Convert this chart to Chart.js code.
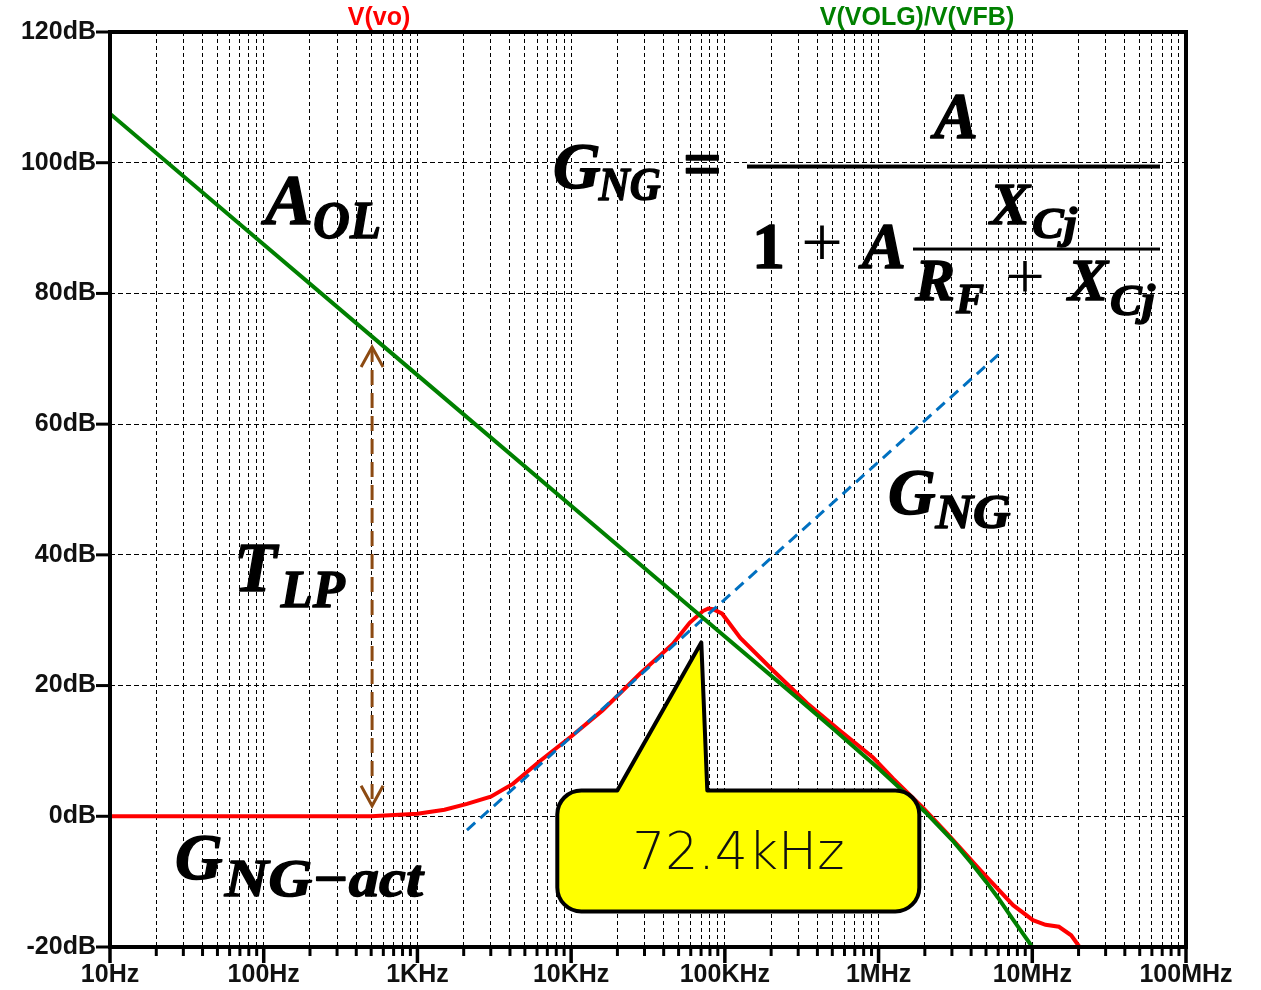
<!doctype html>
<html lang="en">
<head>
  <meta charset="utf-8">
  <title>Noise gain vs open-loop gain</title>
  <script src="https://cdn.jsdelivr.net/npm/chart.js@4.4.1/dist/chart.umd.min.js"></script>
  <style>
    html, body { margin: 0; background: #fff; }
    canvas { display: block; }
  </style>
</head>
<body>
  <canvas id="bode" width="1261" height="990"></canvas>
  <script>
    // V(VOLG)/V(VFB) : open loop gain A_OL
    const aolFreq = [10, 100, 1000, 10000, 100000, 300000, 500000, 1000000, 1500000, 2000000, 3000000, 4000000, 5000000, 6000000, 7500000, 10000000];
    const aolDb = [107.5, 87.5, 67.5, 47.5, 27.5, 18.0, 13.5, 7.3, 3.5, 0.7, -3.6, -7.1, -10.0, -12.5, -15.8, -20.0];

    // V(vo) : actual noise gain
    const voFreq = [10, 100, 500, 1000, 1500, 2100, 3000, 4200, 6300, 10000, 16000, 28000, 46000, 59000, 72000, 78000, 84000, 96000, 126000, 206000, 343000, 562000, 920000, 1240000, 1950000, 2790000, 4570000, 7500000, 10100000, 12200000, 14900000, 17900000, 20300000];
    const voDb = [0, 0, 0, 0.4, 1.0, 1.9, 3.0, 5.0, 8.5, 12.2, 16.2, 21.8, 26.4, 29.6, 31.4, 31.8, 31.7, 31.0, 27.3, 22.3, 17.3, 13.1, 9.0, 5.8, 1.3, -2.6, -8.2, -13.6, -15.9, -16.6, -16.9, -18.2, -20.0];

    // G_NG asymptote
    const ngFreq = [2100, 6200000];
    const ngDb = [-2.1, 70.9];

    // loop gain T_LP span at 500 Hz
    const tlpFreq = [507, 507];
    const tlpDb = [71.8, 1.6];

    const crossFreq = 72400;
    const crossLabel = '72.4kHz';

    const xDecades = [10, 100, 1000, 10000, 100000, 1000000, 10000000, 100000000];
    const xLabels = ['10Hz', '100Hz', '1KHz', '10KHz', '100KHz', '1MHz', '10MHz', '100MHz'];
    const yTicks = [-20, 0, 20, 40, 60, 80, 100, 120];

    const xTickValues = [];
    xDecades.forEach((d, i) => {
      if (i === xDecades.length - 1) { xTickValues.push(d); return; }
      for (let m = 1; m <= 9; m++) xTickValues.push(m * d);
    });

    const pts = (fs, ds) => fs.map((f, i) => ({ x: f, y: ds[i] }));

    const BROWN = '#8c4a12';
    const SERIF = "'Liberation Serif', 'DejaVu Serif', serif";

    // heavy italic math glyphs; w squeezes/stretches the run to a width
    function mtext(ctx, s, x, y, size, italic, w, weight) {
      ctx.font = (italic === false ? '' : 'italic ') + (weight || 'bold') + ' ' + size + 'px ' + SERIF;
      const mw = ctx.measureText(s).width;
      const k = w ? w / mw : 1;
      ctx.save();
      ctx.translate(x, y);
      ctx.scale(k, 1);
      ctx.lineWidth = 1.4;
      ctx.strokeStyle = ctx.fillStyle;
      ctx.lineJoin = 'round';
      const ox = ctx.textAlign === 'center' ? 0 : 0;
      ctx.fillText(s, ox, 0);
      if (weight !== 'normal') ctx.strokeText(s, ox, 0);
      ctx.restore();
      return x + mw * k;
    }

    const overlay = {
      id: 'overlay',
      afterDatasetsDraw(chart) {
        const ctx = chart.ctx;
        const { left, right, top, bottom } = chart.chartArea;
        const xs = chart.scales.x, ys = chart.scales.y;
        ctx.save();

        // frame
        ctx.strokeStyle = '#000';
        ctx.lineWidth = 4;
        ctx.strokeRect(left, top, right - left, bottom - top);

        // tick marks
        ctx.lineWidth = 3;
        yTicks.forEach(v => {
          const y = ys.getPixelForValue(v);
          ctx.beginPath(); ctx.moveTo(left - 14, y); ctx.lineTo(left, y); ctx.stroke();
        });
        xTickValues.forEach(v => {
          const x = xs.getPixelForValue(v);
          const major = xDecades.includes(v);
          ctx.lineWidth = major ? 3.5 : 3;
          ctx.beginPath(); ctx.moveTo(x, bottom); ctx.lineTo(x, bottom + (major ? 16 : 9)); ctx.stroke();
        });

        // arrow heads on T_LP span
        ctx.strokeStyle = BROWN;
        ctx.lineWidth = 3;
        const ax = xs.getPixelForValue(tlpFreq[0]);
        const aTop = ys.getPixelForValue(tlpDb[0]);
        const aBot = ys.getPixelForValue(tlpDb[1]);
        ctx.beginPath();
        ctx.moveTo(ax - 11, aTop + 20); ctx.lineTo(ax, aTop); ctx.lineTo(ax + 11, aTop + 20);
        ctx.moveTo(ax - 11, aBot - 20); ctx.lineTo(ax, aBot); ctx.lineTo(ax + 11, aBot - 20);
        ctx.stroke();

        // math labels
        ctx.fillStyle = '#000';
        ctx.textAlign = 'left';
        ctx.textBaseline = 'alphabetic';

        // A_OL
        let px = xs.getPixelForValue(102), py = ys.getPixelForValue(90.6);
        let e = mtext(ctx, 'A', px, py, 72);
        mtext(ctx, 'OL', e, py + 14, 52, true, 68);

        // T_LP
        px = xs.getPixelForValue(64); py = ys.getPixelForValue(34.4);
        e = mtext(ctx, 'T', px, py, 70);
        mtext(ctx, 'LP', e + 4, py + 16, 52, true, 64);

        // G_NG-act
        px = xs.getPixelForValue(26.5); py = ys.getPixelForValue(-9.6);
        e = mtext(ctx, 'G', px, py, 66);
        mtext(ctx, 'NG\u2212act', e + 2, py + 17, 52, true, 198);

        // G_NG
        px = xs.getPixelForValue(1.15e6); py = ys.getPixelForValue(46.2);
        e = mtext(ctx, 'G', px, py, 66);
        mtext(ctx, 'NG', e, py + 14, 48, true, 75);

        // G_NG = A / (1 + A Xcj / (RF + Xcj))
        px = xs.getPixelForValue(7620); py = ys.getPixelForValue(96.2);
        e = mtext(ctx, 'G', px, py, 66);
        mtext(ctx, 'NG', e - 2, py + 12, 46, true, 62);
        mtext(ctx, '=', px + 130, py - 2, 66, false, 39);
        ctx.fillRect(px + 194, py - 23, 413, 4);
        mtext(ctx, 'A', px + 381, py - 50, 66);
        mtext(ctx, '1', px + 199, py + 80, 66, false);
        mtext(ctx, '+', px + 248, py + 78, 72, false, 42, 'normal');
        mtext(ctx, 'A', px + 309, py + 80, 66);
        ctx.fillRect(px + 360, py + 60, 247, 3);
        e = mtext(ctx, 'X', px + 437, py + 36, 60);
        mtext(ctx, 'Cj', e + 2, py + 50, 44, true, 45);
        e = mtext(ctx, 'R', px + 362, py + 112, 60);
        mtext(ctx, 'F', e + 1, py + 125, 42);
        mtext(ctx, '+', px + 452, py + 110, 66, false, 40, 'normal');
        e = mtext(ctx, 'X', px + 515, py + 112, 60);
        mtext(ctx, 'Cj', e + 2, py + 127, 44, true, 45);

        // callout at crossover
        const tx = xs.getPixelForValue(crossFreq), ty = ys.getPixelForValue(26.6);
        const bl = tx - 146, br = tx + 216, bt = ty + 148, bb = ty + 269, r = 24;
        ctx.beginPath();
        ctx.moveTo(tx - 86, bt);
        ctx.lineTo(tx - 2, ty);
        ctx.lineTo(tx + 4, bt);
        ctx.arcTo(br, bt, br, bb, r);
        ctx.arcTo(br, bb, bl, bb, r);
        ctx.arcTo(bl, bb, bl, bt, r);
        ctx.arcTo(bl, bt, br, bt, r);
        ctx.closePath();
        ctx.fillStyle = '#ffff00';
        ctx.fill();
        ctx.strokeStyle = '#000';
        ctx.lineWidth = 4;
        ctx.lineJoin = 'round';
        ctx.stroke();
        ctx.fillStyle = '#111';
        ctx.font = "200 52px 'DejaVu Sans', sans-serif";
        ctx.textAlign = 'center';
        ctx.textBaseline = 'middle';
        ctx.fillText(crossLabel, (bl + br) / 2, (bt + bb) / 2 + 5);

        // trace names
        ctx.font = "bold 25px 'Liberation Sans', Arial, sans-serif";
        ctx.textBaseline = 'alphabetic';
        ctx.fillStyle = '#ff0000';
        ctx.fillText('V(vo)', 379, 25);
        ctx.fillStyle = '#008000';
        ctx.fillText('V(VOLG)/V(VFB)', 917, 25);

        ctx.restore();
      }
    };

    const tickFont = { family: "'Liberation Sans', Arial, sans-serif", size: 25, weight: 'bold' };

    new Chart(document.getElementById('bode'), {
      type: 'scatter',
      data: {
        datasets: [
          { data: pts(aolFreq, aolDb), borderColor: '#008000', borderWidth: 4, order: 0 },
          { data: pts(ngFreq, ngDb), borderColor: '#0070c0', borderWidth: 3, borderDash: [11, 7], order: 1 },
          { data: pts(voFreq, voDb), borderColor: '#ff0000', borderWidth: 4, order: 2 },
          { data: pts(tlpFreq, tlpDb), borderColor: BROWN, borderWidth: 3, borderDash: [15, 8], order: 3 }
        ].map(d => Object.assign(d, { showLine: true, pointRadius: 0, tension: 0, fill: false }))
      },
      options: {
        responsive: false,
        animation: false,
        layout: { padding: { top: 32, right: 75, left: 0, bottom: 0 } },
        plugins: { legend: { display: false }, tooltip: { enabled: false } },
        scales: {
          x: {
            type: 'logarithmic',
            min: 10,
            max: 100000000,
            afterBuildTicks: s => { s.ticks = xTickValues.map(v => ({ value: v })); },
            afterFit: s => { s.height = 43; },
            grid: { color: '#000', lineWidth: 1, drawTicks: false },
            border: { display: false, dash: [4, 3] },
            ticks: {
              autoSkip: false, maxRotation: 0, padding: 13, color: '#111', font: tickFont,
              callback: v => { const i = xDecades.indexOf(v); return i >= 0 ? xLabels[i] : ''; }
            }
          },
          y: {
            min: -20,
            max: 120,
            afterBuildTicks: s => { s.ticks = yTicks.map(v => ({ value: v })); },
            afterFit: s => { s.width = 110; },
            grid: { color: '#000', lineWidth: 1, drawTicks: false },
            border: { display: false, dash: [5, 3] },
            ticks: { padding: 14, color: '#111', font: tickFont, callback: v => v + 'dB' }
          }
        }
      },
      plugins: [overlay]
    });
  </script>
</body>
</html>
